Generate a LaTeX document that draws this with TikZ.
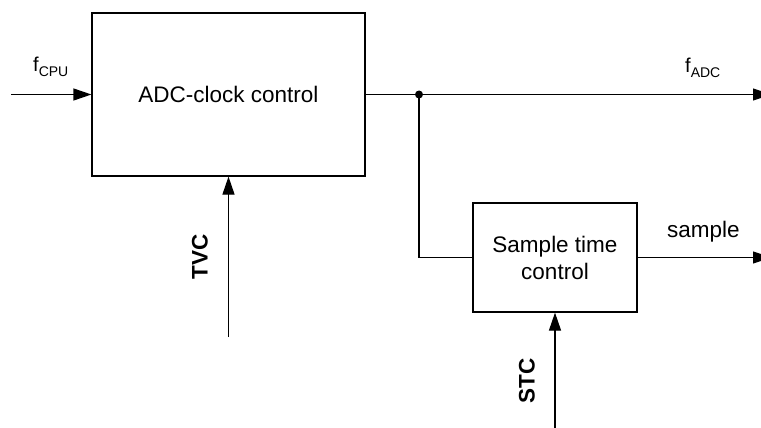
\documentclass[tikz,border=0pt]{standalone}
\usepackage{fontspec}
\setmainfont{Liberation Sans}
\usetikzlibrary{arrows.meta}
\begin{document}
\begin{tikzpicture}[x=1pt,y=-1pt,
  blk/.style={draw, line width=1.2pt, inner sep=0pt, align=center,
    font=\fontsize{22.5}{27}\selectfont},
  conn/.style={line width=1.2pt},
  arr/.style={conn, -{Triangle[length=18pt,width=12pt]}},
  lbl/.style={inner sep=0pt, font=\fontsize{22.5}{27}\selectfont},
  vlbl/.style={inner sep=0pt, rotate=90, font=\fontsize{22.5}{27}\selectfont\bfseries}]
\useasboundingbox (0,0) rectangle (761,428);
\node[blk, minimum width=273pt, minimum height=163pt] (adc) at (228.5,94.5) {ADC-clock control};
\node[blk, minimum width=164pt, minimum height=109pt] (stc) at (555,257.5) {Sample time\\control};
% inputs
\coordinate (fin) at (11,94.5);
\draw[arr] (fin) -- (adc.west);
\node[lbl, anchor=base west] (fcpu) at (33,72) {\fontsize{20}{24}\selectfont f\raisebox{-5pt}{\fontsize{14}{16}\selectfont CPU}};
\coordinate (tvcin) at (228.5,337);
\draw[arr] (tvcin) -- (adc.south);
\node[vlbl] (tvc) at (200,257) {TVC};
\coordinate (stcin) at (555,440);
\draw[arr] (stcin) -- (stc.south);
\node[vlbl] (stcl) at (527,381) {STC};
% outputs
\coordinate (j) at (419,94.5);
\coordinate (fout) at (771,94.5);
\draw[conn] (adc.east) -- (j);
\draw[arr] (j) -- (fout);
\fill (j) circle (4pt);
\draw[conn] (j) |- (stc.west);
\node[lbl, anchor=base west] (fadc) at (685,73) {\fontsize{20}{24}\selectfont f\raisebox{-5pt}{\fontsize{14}{16}\selectfont ADC}};
\coordinate (sout) at (771,257.5);
\draw[arr] (stc.east) -- (sout);
\node[lbl, anchor=base west] (samp) at (667,237) {sample};
\end{tikzpicture}
\end{document}
